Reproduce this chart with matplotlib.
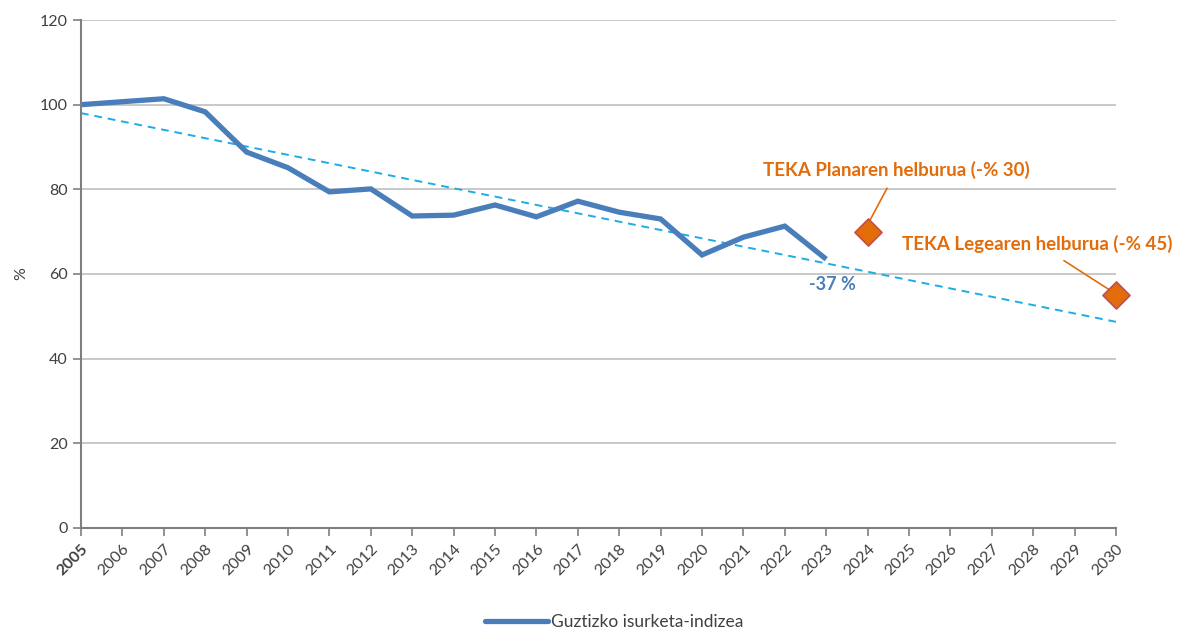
import numpy as np
import matplotlib
matplotlib.use('Agg')
import matplotlib.pyplot as plt
from matplotlib.lines import Line2D

plt.rcParams['font.family'] = ['Lato', 'DejaVu Sans']

# data
years = list(range(2005, 2024))
index = [100, 100.7, 101.4, 98.3, 88.8, 85.1, 79.4, 80.1, 73.7, 73.9,
         76.3, 73.5, 77.2, 74.6, 73.0, 64.5, 68.7, 71.3, 63.5]
trend_years = [2005, 2030]
trend_vals = [98.0, 48.7]
target_years = [2024, 2030]
target_vals = [70, 55]
target_labels = ['TEKA Planaren helburua (-% 30)', 'TEKA Legearen helburua (-% 45)']
all_years = list(range(2005, 2031))

line_col = '#4A7EBB'
orange = '#E36C0A'
grey = '#7F7F7F'

fig = plt.figure(figsize=(11.86, 6.33), dpi=100)
ax = fig.add_axes([0.0683, 0.1659, 0.8727, 0.8025])

ax.set_xlim(2005, 2030)
ax.set_ylim(0, 120)
ax.set_yticks(range(0, 121, 20))
ax.yaxis.grid(True, color='#BFBFBF', lw=1.2)
ax.set_axisbelow(True)

ax.plot(trend_years, trend_vals, color='#1CADE4', lw=1.4, ls=(0, (4, 3)))
ax.plot(years, index, color=line_col, lw=3.8, solid_joinstyle='miter',
        solid_capstyle='butt', label='Guztizko isurketa-indizea')
ax.scatter(target_years, target_vals, marker='D', s=190, color=orange,
           edgecolor='#C0504D', linewidth=1.2, zorder=5, clip_on=False)

ax.annotate(target_labels[0], xy=(2024.03, 72.2), xytext=(2024.7, 84.5),
            ha='center', va='center', color=orange, fontsize=13.5, fontweight='bold',
            arrowprops=dict(arrowstyle='-', color=orange, lw=1.2, shrinkA=5, shrinkB=0))
ax.annotate(target_labels[1], xy=(2029.85, 56.2), xytext=(2028.1, 67.2),
            ha='center', va='center', color=orange, fontsize=13.5, fontweight='bold',
            arrowprops=dict(arrowstyle='-', color=orange, lw=1.2, shrinkA=7, shrinkB=0))
ax.text(2023.15, 57.6, '-37 %', color=line_col, fontsize=13, fontweight='bold',
        ha='center', va='center')

for s in ['top', 'right']:
    ax.spines[s].set_visible(False)
for s in ['left', 'bottom']:
    ax.spines[s].set_color(grey)
    ax.spines[s].set_linewidth(1.5)

ax.set_xticks(all_years)
ax.set_xticklabels([str(y) for y in all_years], rotation=45, ha='right',
                   rotation_mode='anchor', fontsize=11.5, color='#404040')
ax.get_xticklabels()[0].set_fontweight('bold')
ax.tick_params(axis='x', length=6, color=grey, width=1.2, pad=4)
ax.tick_params(axis='y', length=6, color=grey, width=1.2, labelsize=11.5,
               labelcolor='#404040')
ax.set_ylabel('%', fontsize=11.5, color='#404040', labelpad=8)

handle = Line2D([0], [0], color=line_col, lw=3.8, solid_capstyle='round')
fig.legend([handle], ['Guztizko isurketa-indizea'], loc='center',
           bbox_to_anchor=(0.518, 0.017), frameon=False, fontsize=12.5,
           handlelength=3.6, handletextpad=0.2, labelcolor='#404040')

fig.savefig('out.png', dpi=100)
